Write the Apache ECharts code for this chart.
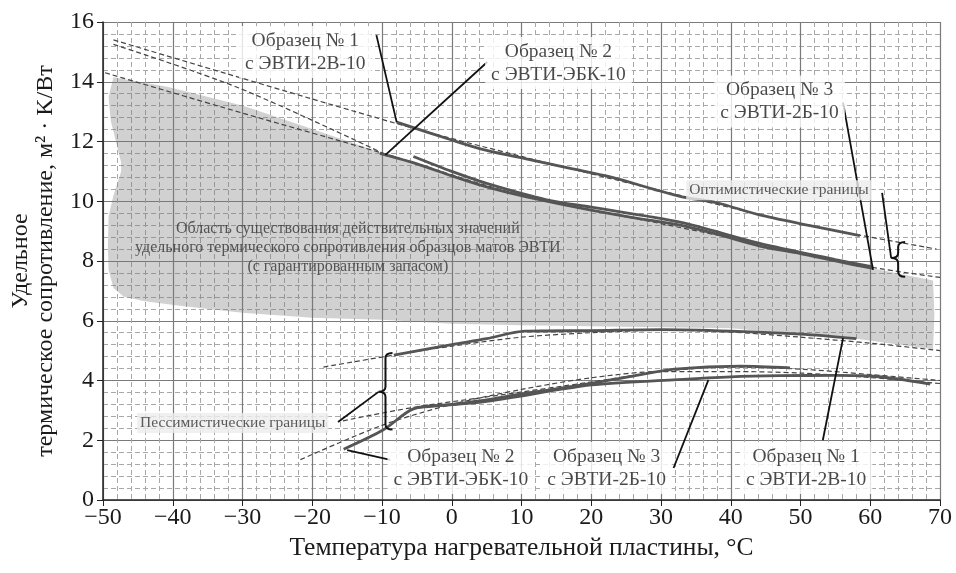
<!DOCTYPE html>
<html>
<head>
<meta charset="utf-8">
<script src="https://cdn.jsdelivr.net/npm/echarts@6/dist/echarts.min.js"></script>
<style>
html, body { margin: 0; padding: 0; background: #fff; }
#chart { width: 956px; height: 573px; }
</style>
</head>
<body>
<div id="chart"></div>
<script>
var myChart = echarts.init(document.getElementById('chart'));

// оптимистические кривые (сплошные) и их тренды (пунктир)
var s1OptX = [-7.9, 0, 5, 11, 17, 23, 29, 33, 38, 44, 51, 58.5];
var s1OptY = [12.65, 12.05, 11.7, 11.4, 11.1, 10.8, 10.4, 10.15, 9.95, 9.55, 9.2, 8.85];
var s2OptX = [-10.3, -5, 0, 4, 8, 13.6, 20, 26, 32.7, 38, 44.2, 50, 55, 60.4];
var s2OptY = [11.6, 11.25, 10.85, 10.55, 10.3, 10.0, 9.7, 9.45, 9.2, 8.9, 8.5, 8.25, 8.0, 7.75];
var s3OptX = [-5.5, 0, 5, 13.6, 20, 32.7, 44, 55, 60.4];
var s3OptY = [11.5, 11.0, 10.6, 10.05, 9.8, 9.3, 8.6, 8.05, 7.8];
var t1OptX = [-48.5, -7.9, 10, 30, 50, 69.5];
var t1OptY = [15.4, 12.6, 11.5, 10.35, 9.25, 8.4];
var t2OptX = [-48.5, -30.6, -9.8];
var t2OptY = [15.25, 13.8, 11.6];
var t3OptX = [-49.7, -30, -9.8, 10, 30, 50, 60, 70];
var t3OptY = [14.3, 12.95, 11.6, 10.2, 9.25, 8.3, 7.8, 7.45];

// пессимистические кривые
var s1PesX = [-8.3, 0, 5, 10.5, 20, 30, 40, 50, 58];
var s1PesY = [4.85, 5.2, 5.4, 5.65, 5.67, 5.7, 5.65, 5.55, 5.4];
var s2PesX = [-15.5, -9.8, -5.5, 0, 5, 10, 15, 20, 26, 32, 41.4, 48.5];
var s2PesY = [1.7, 2.35, 3.05, 3.2, 3.35, 3.55, 3.72, 3.9, 4.15, 4.38, 4.48, 4.42];
var s3PesX = [-5, 5, 20, 31.8, 40, 47, 55, 60, 64, 68.6];
var s3PesY = [3.1, 3.3, 3.85, 4.02, 4.12, 4.16, 4.17, 4.15, 4.05, 3.88];
var t1PesX = [-18.4, -8.3, 0, 10, 20, 30, 40, 50, 60, 70];
var t1PesY = [4.45, 4.85, 5.15, 5.45, 5.6, 5.68, 5.62, 5.45, 5.25, 5.0];
var t2PesX = [-15.6, -5.5, 5, 20, 30, 40, 50, 60, 70];
var t2PesY = [2.65, 3.1, 3.45, 3.95, 4.3, 4.45, 4.38, 4.2, 4.0];
var t3PesX = [-21.7, -10, 0, 10, 20.3, 30, 40, 50, 60, 70];
var t3PesY = [1.35, 2.5, 3.2, 3.7, 4.1, 4.3, 4.3, 4.25, 4.1, 3.9];

// область существования (серая)
var grayX = [-48.5, -40.8, -29.9, -19.8, -9.8, -5, 0, 4, 13.6, 20, 32.7, 44.2, 50, 60.4, 69, 69.2, 69, 58, 50, 40, 25, 10, 0, -10, -20, -30, -39, -44, -47, -48.5, -49.2, -49.3, -49.2, -48.5, -47.4, -47.4, -48.9, -49.2];
var grayY = [14.15, 13.83, 13.2, 12.4, 11.6, 11.25, 10.85, 10.55, 10.0, 9.7, 9.2, 8.5, 8.25, 7.75, 7.35, 6.2, 5.05, 5.4, 5.55, 5.75, 5.8, 5.85, 5.9, 6.03, 6.1, 6.27, 6.5, 6.65, 6.8, 7.1, 7.7, 8.5, 9.5, 10.2, 11.0, 11.3, 12.7, 13.5];

// выноски [x1, y1, x2, y2]
var leaders = [
	[-10.8, 15.56, -7.9, 12.65],
	[5.1, 14.66, -9.5, 11.55],
	[56.1, 13.3, 60.4, 7.7],
	[61.7, 10.28, 63.0, 8.1],
	[-16.3, 2.61, -10.5, 3.62],
	[-8.8, 1.34, -15, 1.67],
	[31.8, 1.07, 36.8, 4.02],
	[53.2, 2.0, 56.1, 5.42]
];
// фигурные скобки [x, верх, низ, острие]
var braces = [[-9.5, 4.92, 2.36, 3.62], [64.0, 8.64, 7.47, 8.1]];

var sampleNames = ['Образец № 1\nс ЭВТИ-2В-10', 'Образец № 2\nс ЭВТИ-ЭБК-10', 'Образец № 3\nс ЭВТИ-2Б-10',
	'Образец № 2\nс ЭВТИ-ЭБК-10', 'Образец № 3\nс ЭВТИ-2Б-10', 'Образец № 1\nс ЭВТИ-2В-10'];
var sampleX = [-21.0, 15.3, 47.0, 1.3, 22.2, 50.8];
var sampleY = [15.0, 14.63, 13.34, 1.07, 1.07, 1.07];
var boundNames = ['Оптимистические границы', 'Пессимистические границы'];
var boundX = [46.9, -31.4];
var boundY = [10.37, 2.58];
var areaText = 'Область существования действительных значений\nудельного термического сопротивления образцов матов ЭВТИ\n(с гарантированным запасом)';
var areaPos = [-14.9, 8.43];

var serif = 'Liberation Serif';

function pts(xs, ys) {
	return xs.map(function (x, i) { return [x, ys[i]]; });
}
function solid(xs, ys) {
	return { type: 'line', data: pts(xs, ys), showSymbol: false, smooth: 0.3, silent: true, z: 4,
		lineStyle: { color: '#555', width: 2.8 } };
}
function dashed(xs, ys) {
	return { type: 'line', data: pts(xs, ys), showSymbol: false, smooth: 0.3, silent: true, z: 3,
		lineStyle: { color: '#444', width: 1.2, type: [5, 3] } };
}

var series = [];
series.push({
	type: 'custom', silent: true, z: 2, data: [[0, 0]],
	renderItem: function (params, api) {
		var p = grayX.map(function (x, i) { return api.coord([x, grayY[i]]); });
		return { type: 'polygon', shape: { points: p }, style: { fill: 'rgba(120,120,120,0.34)' } };
	}
});
series.push(dashed(t1OptX, t1OptY), dashed(t2OptX, t2OptY), dashed(t3OptX, t3OptY));
series.push(dashed(t1PesX, t1PesY), dashed(t2PesX, t2PesY), dashed(t3PesX, t3PesY));
series.push(solid(s1OptX, s1OptY), solid(s2OptX, s2OptY), solid(s3OptX, s3OptY));
series.push(solid(s1PesX, s1PesY), solid(s2PesX, s2PesY), solid(s3PesX, s3PesY));
leaders.forEach(function (l) {
	series.push({ type: 'line', data: [[l[0], l[1]], [l[2], l[3]]], showSymbol: false, silent: true, z: 5,
		lineStyle: { color: '#111', width: 1.8 } });
});
series.push({
	type: 'custom', silent: true, z: 5, data: braces,
	renderItem: function (params, api) {
		var t = api.coord([api.value(0), api.value(1)]);
		var b = api.coord([api.value(0), api.value(2)]);
		var m = api.coord([api.value(0), api.value(3)]);
		var x = t[0], w = 7, r = 5;
		var d = 'M' + (x + w) + ',' + t[1] + ' Q' + x + ',' + t[1] + ' ' + x + ',' + (t[1] + r) +
			' L' + x + ',' + (m[1] - r) + ' Q' + x + ',' + m[1] + ' ' + (x - w) + ',' + m[1] +
			' Q' + x + ',' + m[1] + ' ' + x + ',' + (m[1] + r) +
			' L' + x + ',' + (b[1] - r) + ' Q' + x + ',' + b[1] + ' ' + (x + w) + ',' + b[1];
		return { type: 'path', shape: { pathData: d }, style: { stroke: '#111', lineWidth: 2, fill: null } };
	}
});
// подписи образцов
series.push({
	type: 'scatter', silent: true, z: 6, symbolSize: 1, itemStyle: { color: 'rgba(0,0,0,0)' },
	data: sampleNames.map(function (n, i) { return { value: [sampleX[i], sampleY[i]], name: n }; }),
	label: { show: true, position: 'inside', formatter: '{b}', fontFamily: serif, fontSize: 19.5,
		lineHeight: 23, color: '#1a1a1a', backgroundColor: '#fff', padding: [3, 6], align: 'center' }
});
series.push({
	type: 'scatter', silent: true, z: 6, symbolSize: 1, itemStyle: { color: 'rgba(0,0,0,0)' },
	data: boundNames.map(function (n, i) { return { value: [boundX[i], boundY[i]], name: n }; }),
	label: { show: true, position: 'inside', formatter: '{b}', fontFamily: serif, fontSize: 15.5,
		color: '#333', backgroundColor: '#ececec', padding: [2, 3] }
});
series.push({
	type: 'scatter', silent: true, z: 6, symbolSize: 1, itemStyle: { color: 'rgba(0,0,0,0)' },
	data: [{ value: areaPos, name: areaText }],
	label: { show: true, position: 'inside', formatter: '{b}', fontFamily: serif, fontSize: 16,
		lineHeight: 19, color: '#333', align: 'center' }
});

var option = {
	animation: false,
	backgroundColor: '#fff',
	grid: { left: 103, right: 16, top: 22, bottom: 73, outerBoundsMode: 'none' },
	xAxis: {
		type: 'value', min: -50, max: 70, interval: 10,
		name: 'Температура нагревательной пластины, °C',
		nameLocation: 'middle', nameGap: 35,
		nameTextStyle: { fontFamily: serif, fontSize: 25.5, color: '#1a1a1a' },
		axisLine: { onZero: false, lineStyle: { color: '#222', width: 1.5 } },
		axisTick: { show: true, length: 6, lineStyle: { color: '#222' } },
		axisLabel: { fontFamily: serif, fontSize: 24, color: '#1a1a1a', margin: 6,
			formatter: function (v) { return v < 0 ? '\u2212' + Math.abs(v) : String(v); } },
		splitLine: { show: true, lineStyle: { color: '#7a7a7a', width: 1.2 } },
		minorTick: { show: false, splitNumber: 5 },
		minorSplitLine: { show: true, lineStyle: { color: '#a8a8a8', width: 1, type: [5, 3] } }
	},
	yAxis: {
		type: 'value', min: 0, max: 16, interval: 2,
		name: 'Удельное\nтермическое сопротивление, м² · K/Вт',
		nameLocation: 'middle', nameGap: 45,
		nameTextStyle: { fontFamily: serif, fontSize: 24, lineHeight: 25, color: '#1a1a1a', align: 'center' },
		axisLine: { onZero: false, lineStyle: { color: '#222', width: 1.5 } },
		axisTick: { show: true, length: 6, lineStyle: { color: '#222' } },
		axisLabel: { fontFamily: serif, fontSize: 24, color: '#1a1a1a', margin: 9 },
		splitLine: { show: true, lineStyle: { color: '#7a7a7a', width: 1.2 } },
		minorTick: { show: false, splitNumber: 5 },
		minorSplitLine: { show: true, lineStyle: { color: '#a8a8a8', width: 1, type: [5, 3] } }
	},
	series: series
};
myChart.setOption(option);
</script>
</body>
</html>
